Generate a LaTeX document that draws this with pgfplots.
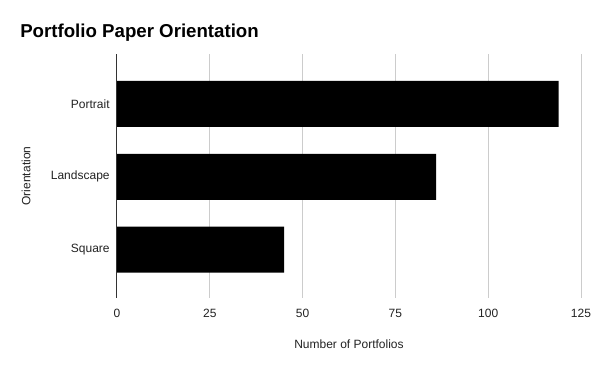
\documentclass[border=0pt]{standalone}
\usepackage{pgfplots}
\pgfplotsset{compat=1.18}
\usepackage{fontspec}
\setmainfont{Liberation Sans}
\definecolor{gridgray}{HTML}{CCCCCC}
\definecolor{txt}{HTML}{222222}
\begin{document}
\begin{tikzpicture}[x=1pt,y=1pt]
\useasboundingbox (0,0) rectangle (450,278.25);
\node[anchor=base west,inner sep=0pt,font=\bfseries\fontsize{14}{16}\selectfont] at (15,250) {Portfolio Paper Orientation};
\begin{axis}[
  at={(87.75pt,54.75pt)}, anchor=south west,
  scale only axis, width=348pt, height=183pt,
  xbar, bar width=34.5pt,
  xmin=0, xmax=125,
  ymin=-0.664, ymax=2.685,
  xtick={0,25,50,75,100,125},
  ytick={0,1,2},
  yticklabels={Square,Landscape,Portrait},
  axis line style={draw=none},
  major tick length=0pt,
  xmajorgrids=true, ymajorgrids=false,
  major grid style={draw=gridgray, line width=0.75pt},
  tick label style={font=\fontsize{9}{10}\selectfont, text=txt},
  /pgf/number format/assume math mode=true,
  xlabel={Number of Portfolios}, ylabel={Orientation},
  label style={font=\fontsize{9}{10}\selectfont, text=txt},
  xticklabel style={yshift=-5pt},
  yticklabel style={xshift=-2pt},
  xlabel style={yshift=-9.5pt},
  ylabel style={yshift=8.5pt},
  clip=false,
]
\addplot[fill=black, draw=none] coordinates {(45,0) (86,1) (119,2)};
\draw[color=black!80, line width=0.75pt] (axis cs:0,-0.664) -- (axis cs:0,2.685);
\end{axis}
\end{tikzpicture}
\end{document}
